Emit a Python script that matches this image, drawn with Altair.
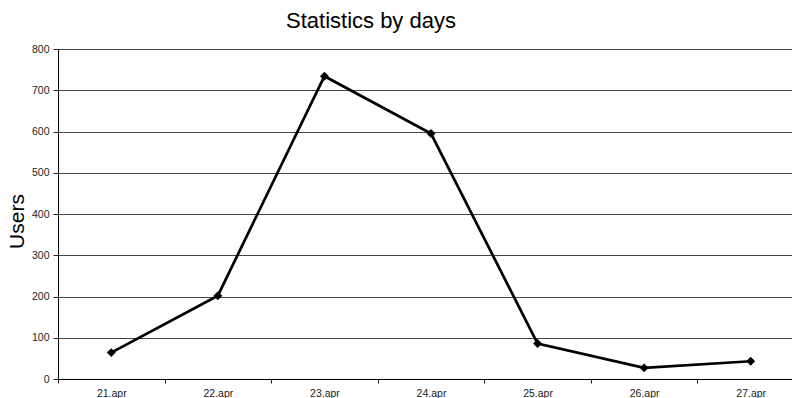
import altair as alt
import pandas as pd

days = ["21.apr", "22.apr", "23.apr", "24.apr", "25.apr", "26.apr", "27.apr"]
users = [64, 202, 734, 595, 86, 27, 43]
y_ticks = [0, 100, 200, 300, 400, 500, 600, 700, 800]

df = pd.DataFrame({"day": days, "users": users})

FONT = "Liberation Sans"

chart = (
    alt.Chart(df)
    .mark_line(
        color="black",
        strokeWidth=2.7,
        point=alt.OverlayMarkDef(shape="diamond", filled=True, color="black", size=80),
    )
    .encode(
        x=alt.X(
            "day:N",
            sort=days,
            scale=alt.Scale(type="band", paddingInner=0, paddingOuter=0, range=[0, 746]),
            axis=alt.Axis(
                title=None,
                labelAngle=0,
                tickBand="extent",
                tickSize=4,
                tickColor="#222",
                labelPadding=5,
                labelFont=FONT,
                labelFontSize=10.5,
                labelColor="#222",
                domainColor="black",
                domainWidth=1,
                grid=False,
            ),
        ),
        y=alt.Y(
            "users:Q",
            scale=alt.Scale(domain=[0, 800], nice=False),
            axis=alt.Axis(
                values=y_ticks,
                title="Users",
                titleFont=FONT,
                titleFontSize=21,
                titleFontWeight="normal",
                titleColor="black",
                titleAngle=-90,
                titleAlign="center",
                titleBaseline="middle",
                titleX=-41,
                titleY=172,
                tickSize=5,
                tickColor="#222",
                labelPadding=4,
                labelFont=FONT,
                labelFontSize=10.5,
                labelColor="#222",
                domainColor="black",
                domainWidth=1,
                grid=True,
                gridColor="#444",
                gridWidth=1,
                gridOpacity=1,
            ),
        ),
    )
    .properties(
        width=734,
        height=330,
        autosize=alt.AutoSizeParams(type="none"),
        padding={"left": 58, "top": 49, "right": 0, "bottom": 19},
        background="white",
        title=alt.TitleParams(
            "Statistics by days",
            anchor="start",
            dx=280,
            font=FONT,
            fontSize=22,
            fontWeight="normal",
            color="black",
            baseline="alphabetic",
            offset=-6,
        ),
    )
    .configure_view(stroke=None)
)

chart.save("out.html", embed_options={"renderer": "svg", "actions": False})
